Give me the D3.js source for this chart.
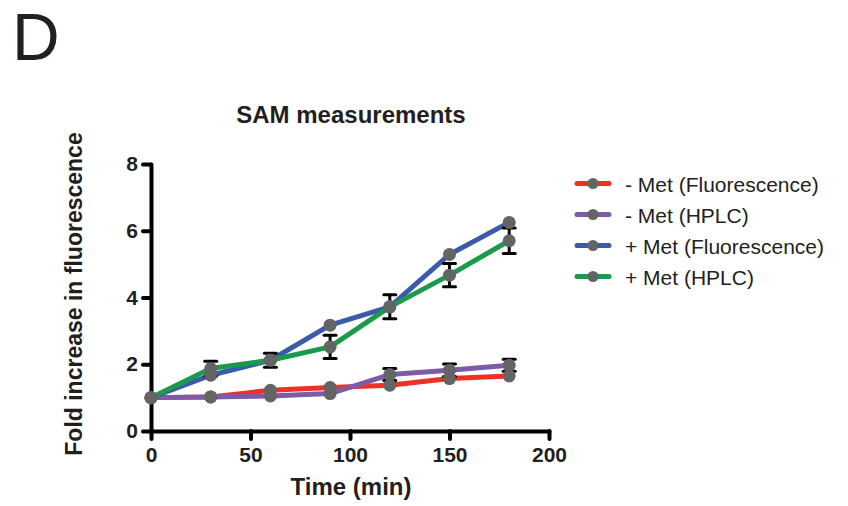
<!DOCTYPE html>
<html>
<head>
<meta charset="utf-8">
<script src="https://cdn.jsdelivr.net/npm/d3@7"></script>
<style>
  body { margin: 0; background: #fff; }
  svg { font-family: "Liberation Sans", Arial, Helvetica, sans-serif; }
</style>
</head>
<body>
<div id="chart"></div>
<script>
// time points (min)
var times = [0, 30, 60, 90, 120, 150, 180];

// fold increase values
var minusMetFluor = [1.0, 1.02, 1.22, 1.30, 1.37, 1.57, 1.65];
var minusMetHplc = [1.0, 1.02, 1.05, 1.12, 1.69, 1.82, 1.97];
var minusMetHplcErr = [0, 0, 0, 0, 0.18, 0.19, 0.18];
var plusMetFluor = [1.0, 1.67, 2.12, 3.17, 3.72, 5.29, 6.25];
var plusMetHplc = [1.0, 1.87, 2.12, 2.52, 3.72, 4.67, 5.70];
var plusMetHplcErr = [0, 0.22, 0.21, 0.35, 0.36, 0.35, 0.38];

var seriesNames = ["- Met (Fluorescence)", "- Met (HPLC)", "+ Met (Fluorescence)", "+ Met (HPLC)"];
var seriesColors = ["#ee3124", "#7d5ba6", "#3a5ba9", "#1a9a4a"];

var xTicks = [0, 50, 100, 150, 200];
var yTicks = [0, 2, 4, 6, 8];

var series = [
    { name: seriesNames[0], color: seriesColors[0], values: minusMetFluor, err: null },
    { name: seriesNames[1], color: seriesColors[1], values: minusMetHplc, err: minusMetHplcErr },
    { name: seriesNames[2], color: seriesColors[2], values: plusMetFluor, err: null },
    { name: seriesNames[3], color: seriesColors[3], values: plusMetHplc, err: plusMetHplcErr }
];

var svgWidth = 848;
var svgHeight = 506;
var textColor = "#231f20";

var svg = d3.select("#chart")
    .append("svg")
    .attr("width", svgWidth)
    .attr("height", svgHeight);

var xScale = d3.scaleLinear().domain([0, 200]).range([151, 549]);
var yScale = d3.scaleLinear().domain([0, 8]).range([431, 164]);

// panel letter
svg.append("text")
    .attr("x", 12)
    .attr("y", 60)
    .attr("font-size", 66)
    .attr("fill", textColor)
    .text("D");

// title
svg.append("text")
    .attr("x", 351)
    .attr("y", 123)
    .attr("text-anchor", "middle")
    .attr("font-size", 24)
    .attr("font-weight", "bold")
    .attr("fill", textColor)
    .text("SAM measurements");

// axes
var xAxis = d3.axisBottom(xScale)
    .tickValues(xTicks)
    .tickSize(8)
    .tickSizeOuter(0)
    .tickPadding(8);

var yAxis = d3.axisLeft(yScale)
    .tickValues(yTicks)
    .tickSize(8)
    .tickSizeOuter(0)
    .tickPadding(5);

var gx = svg.append("g")
    .attr("transform", "translate(0, 431)")
    .call(xAxis);

var gy = svg.append("g")
    .attr("transform", "translate(151, 0)")
    .call(yAxis);

[gx, gy].forEach(function(g) {
    g.select(".domain")
        .attr("stroke", "#000")
        .attr("stroke-width", 4)
        .attr("stroke-linecap", "round");
    g.selectAll(".tick line")
        .attr("stroke", "#000")
        .attr("stroke-width", 4)
        .attr("stroke-linecap", "round");
    g.selectAll(".tick text")
        .attr("font-size", 21)
        .attr("font-weight", "bold")
        .attr("font-family", "'Liberation Sans', Arial, sans-serif")
        .attr("fill", textColor);
});

// axis labels
svg.append("text")
    .attr("x", 351)
    .attr("y", 495)
    .attr("text-anchor", "middle")
    .attr("font-size", 24)
    .attr("font-weight", "bold")
    .attr("fill", textColor)
    .text("Time (min)");

svg.append("text")
    .attr("transform", "translate(82, 294) rotate(-90)")
    .attr("text-anchor", "middle")
    .attr("font-size", 23)
    .attr("font-weight", "bold")
    .attr("fill", textColor)
    .text("Fold increase in fluorescence");

// lines
var line = d3.line()
    .x(function(d, i) { return xScale(times[i]); })
    .y(function(d) { return yScale(d); });

svg.append("g")
    .selectAll("path")
    .data(series)
    .enter()
    .append("path")
    .attr("d", function(s) { return line(s.values); })
    .attr("fill", "none")
    .attr("stroke", function(s) { return s.color; })
    .attr("stroke-width", 5)
    .attr("stroke-linejoin", "round");

// error bars
var errGroup = svg.append("g");
series.forEach(function(s) {
    if (!s.err) return;
    s.values.forEach(function(v, i) {
        var e = s.err[i];
        if (!e) return;
        var x = xScale(times[i]);
        var y1 = yScale(v + e);
        var y2 = yScale(v - e);
        errGroup.append("line")
            .attr("x1", x).attr("x2", x)
            .attr("y1", y1).attr("y2", y2)
            .attr("stroke", "#000").attr("stroke-width", 3);
        [y1, y2].forEach(function(y) {
            errGroup.append("line")
                .attr("x1", x - 6).attr("x2", x + 6)
                .attr("y1", y).attr("y2", y)
                .attr("stroke", "#000").attr("stroke-width", 3)
                .attr("stroke-linecap", "round");
        });
    });
});

// markers
series.forEach(function(s) {
    svg.append("g")
        .selectAll("circle")
        .data(s.values)
        .enter()
        .append("circle")
        .attr("cx", function(d, i) { return xScale(times[i]); })
        .attr("cy", function(d) { return yScale(d); })
        .attr("r", 6.5)
        .attr("fill", "#646464");
});

// legend
var legend = svg.append("g")
    .selectAll("g")
    .data(series)
    .enter()
    .append("g")
    .attr("transform", function(d, i) { return "translate(0, " + (183.5 + i * 31) + ")"; });

legend.append("line")
    .attr("x1", 577).attr("x2", 609)
    .attr("y1", 0).attr("y2", 0)
    .attr("stroke", function(d) { return d.color; })
    .attr("stroke-width", 5)
    .attr("stroke-linecap", "round");

legend.append("circle")
    .attr("cx", 593)
    .attr("cy", 0)
    .attr("r", 5.5)
    .attr("fill", "#646464");

legend.append("text")
    .attr("x", 625)
    .attr("y", 8)
    .attr("font-size", 21)
    .attr("fill", textColor)
    .text(function(d) { return d.name; });
</script>
</body>
</html>
